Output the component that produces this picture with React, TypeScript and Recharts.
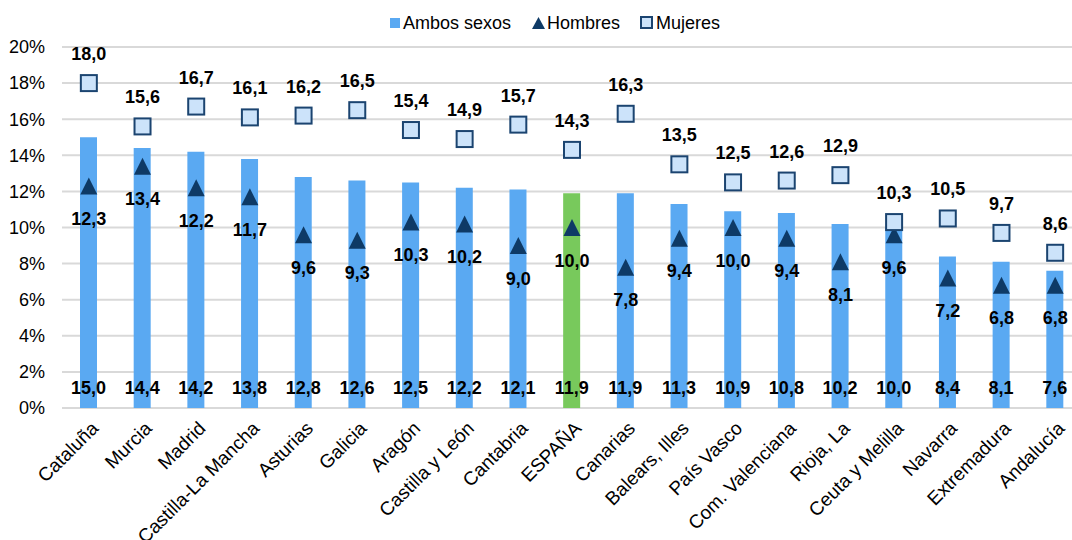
import React from "react";
import {
  ComposedChart,
  Bar,
  Line,
  XAxis,
  YAxis,
  CartesianGrid,
  Cell,
  LabelList,
} from "recharts";

const categories = [
  "Cataluña",
  "Murcia",
  "Madrid",
  "Castilla-La Mancha",
  "Asturias",
  "Galicia",
  "Aragón",
  "Castilla y León",
  "Cantabria",
  "ESPAÑA",
  "Canarias",
  "Balears, Illes",
  "País Vasco",
  "Com. Valenciana",
  "Rioja, La",
  "Ceuta y Melilla",
  "Navarra",
  "Extremadura",
  "Andalucía",
];

const ambos = [15.0, 14.4, 14.2, 13.8, 12.8, 12.6, 12.5, 12.2, 12.1, 11.9, 11.9, 11.3, 10.9, 10.8, 10.2, 10.0, 8.4, 8.1, 7.6];
const hombres = [12.3, 13.4, 12.2, 11.7, 9.6, 9.3, 10.3, 10.2, 9.0, 10.0, 7.8, 9.4, 10.0, 9.4, 8.1, 9.6, 7.2, 6.8, 6.8];
const mujeres = [18.0, 15.6, 16.7, 16.1, 16.2, 16.5, 15.4, 14.9, 15.7, 14.3, 16.3, 13.5, 12.5, 12.6, 12.9, 10.3, 10.5, 9.7, 8.6];

const yTicks = [0, 2, 4, 6, 8, 10, 12, 14, 16, 18, 20];

const data = categories.map((c, i) => ({
  name: c,
  ambos: ambos[i],
  hombres: hombres[i],
  mujeres: mujeres[i],
}));

const FONT = "'Liberation Sans', Arial, sans-serif";
const BAR = "#5AA9F2";
const GREEN = "#78C95C";
const NAVY = "#0E3A66";
const SQ_FILL = "#CCE3FA";
const SQ_STROKE = "#1B4470";

const fmt = (v: number) => v.toFixed(1).replace(".", ",");

const Triangle = (props: any) => {
  const { cx, cy } = props;
  if (cx == null || cy == null) return null;
  const w = 17;
  const h = 17;
  return (
    <path
      d={`M${cx - w / 2},${cy + h / 2} L${cx + w / 2},${cy + h / 2} L${cx},${cy - h / 2} Z`}
      fill={NAVY}
    />
  );
};

const Square = (props: any) => {
  const { cx, cy } = props;
  if (cx == null || cy == null) return null;
  const s = 16;
  return (
    <rect x={cx - s / 2} y={cy - s / 2} width={s} height={s} fill={SQ_FILL} stroke={SQ_STROKE} strokeWidth={2} />
  );
};

const BarLabel = (props: any) => {
  const { x, y, width, height, value } = props;
  return (
    <text
      x={x + width / 2}
      y={y + height - 14}
      textAnchor="middle"
      fontFamily={FONT}
      fontWeight="bold"
      fontSize={18}
      fill="#000"
    >
      {fmt(value)}
    </text>
  );
};

const BelowLabel = (props: any) => {
  const { x, y, value } = props;
  return (
    <text x={x} y={y + 39} textAnchor="middle" fontFamily={FONT} fontWeight="bold" fontSize={18} fill="#000">
      {fmt(value)}
    </text>
  );
};

const AboveLabel = (props: any) => {
  const { x, y, value } = props;
  return (
    <text x={x} y={y - 23} textAnchor="middle" fontFamily={FONT} fontWeight="bold" fontSize={18} fill="#000">
      {fmt(value)}
    </text>
  );
};

const XTick = (props: any) => {
  const { x, y, payload } = props;
  return (
    <g transform={`translate(${x + 1},${y + 12})`}>
      <text
        textAnchor="end"
        transform="rotate(-45)"
        dy="0.71em"
        fontFamily={FONT}
        fontSize={19}
        fill="#000"
      >
        {payload.value}
      </text>
    </g>
  );
};

const LegendBox = () => {
  const item: React.CSSProperties = { display: "flex", alignItems: "center", marginRight: 20 };
  const txt: React.CSSProperties = { fontFamily: FONT, fontSize: 18, color: "#000", lineHeight: "20px" };
  return (
    <div style={{ position: "absolute", left: 389, top: 13, display: "flex", alignItems: "center" }}>
      <div style={item}>
        <svg width={12} height={12} style={{ marginRight: 2 }}>
          <rect x={1} y={1} width={10} height={10} fill={BAR} />
        </svg>
        <span style={txt}>Ambos sexos</span>
      </div>
      <div style={item}>
        <svg width={15} height={14} style={{ marginRight: 1 }}>
          <path d="M1,13 L14,13 L7.5,1 Z" fill={NAVY} />
        </svg>
        <span style={txt}>Hombres</span>
      </div>
      <div style={item}>
        <svg width={14} height={14} style={{ marginRight: 2 }}>
          <rect x={1} y={1} width={11} height={11} fill={SQ_FILL} stroke={SQ_STROKE} strokeWidth={2} />
        </svg>
        <span style={txt}>Mujeres</span>
      </div>
    </div>
  );
};

export default function App() {
  return (
    <div
      style={{
        position: "absolute",
        left: 0,
        top: 0,
        width: 1072,
        height: 540,
        overflow: "hidden",
        background: "#fff",
      }}
    >
      <ComposedChart
        width={1082}
        height={540}
        data={data}
        margin={{ top: 47, right: 0, bottom: 0, left: 0 }}
      >
        <CartesianGrid horizontal vertical={false} stroke="#D9D9D9" strokeWidth={2} />
        <XAxis
          dataKey="name"
          interval={0}
          axisLine={false}
          tickLine={false}
          tickSize={0}
          tickMargin={0}
          height={132}
          tick={<XTick />}
        />
        <YAxis
          domain={[0, 20]}
          ticks={yTicks}
          width={62}
          axisLine={false}
          tickLine={false}
          tickSize={0}
          tickMargin={17}
          tickFormatter={(v: number) => `${v}%`}
          tick={{ fontFamily: FONT, fontSize: 18, fill: "#000" }}
        />
        <Bar dataKey="ambos" name="Ambos sexos" barSize={17} fill={BAR} isAnimationActive={false}>
          {data.map((d, i) => (
            <Cell key={i} fill={d.name === "ESPAÑA" ? GREEN : BAR} />
          ))}
          <LabelList dataKey="ambos" content={<BarLabel />} />
        </Bar>
        <Line
          dataKey="hombres"
          name="Hombres"
          stroke="none"
          dot={<Triangle />}
          activeDot={false}
          isAnimationActive={false}
        >
          <LabelList dataKey="hombres" content={<BelowLabel />} />
        </Line>
        <Line
          dataKey="mujeres"
          name="Mujeres"
          stroke="none"
          dot={<Square />}
          activeDot={false}
          isAnimationActive={false}
        >
          <LabelList dataKey="mujeres" content={<AboveLabel />} />
        </Line>
      </ComposedChart>
      <LegendBox />
    </div>
  );
}
